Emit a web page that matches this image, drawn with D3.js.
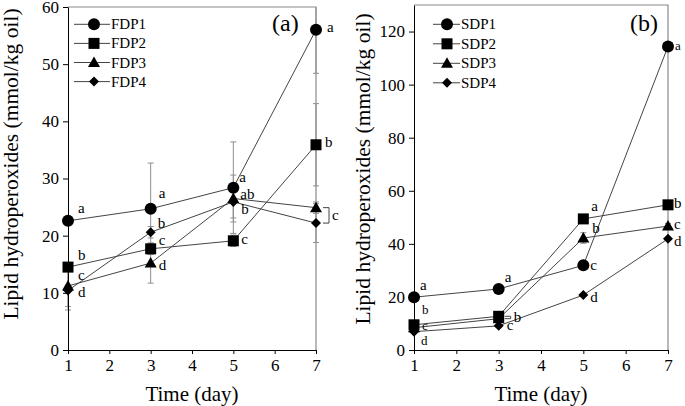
<!DOCTYPE html>
<html>
<head>
<meta charset="utf-8">
<script src="https://cdn.jsdelivr.net/npm/d3@7"></script>
<style>
  body { margin: 0; background: #fff; }
  svg { display: block; font-family: "Liberation Serif", "Times New Roman", serif; }
</style>
</head>
<body>
<svg id="chart" width="685" height="406"></svg>
<script>
// data
var days = [1, 3, 5, 7];

var fdpNames = ["FDP1", "FDP2", "FDP3", "FDP4"];
var fdp1 = [22.6, 24.7, 28.4, 56.0];
var fdp2 = [14.5, 17.7, 19.1, 35.9];
var fdp3 = [11.2, 15.2, 26.5, 24.9];
var fdp4 = [10.4, 20.6, 25.9, 22.2];
var fdp1Err = [0.8, 8.0, 8.0, 7.6];
var fdp2Err = [0.5, 1.0, 1.0, 7.2];
var fdp3Err = [3.6, 3.5, 4.1, 1.0];
var fdp4Err = [3.4, 1.0, 2.8, 3.4];
var fdpLetters = [["a", "a", "a", "a"], ["b", "c", "c", "b"], ["c", "d", "ab", ""], ["d", "b", "b", ""]];

var sdpNames = ["SDP1", "SDP2", "SDP3", "SDP4"];
var sdp1 = [19.9, 23.0, 31.9, 114.4];
var sdp2 = [9.5, 12.7, 49.4, 54.7];
var sdp3 = [8.4, 11.8, 42.2, 46.7];
var sdp4 = [6.9, 9.1, 20.7, 41.9];
var sdp1Err = [0.5, 0.5, 0.8, 1.5];
var sdp2Err = [0.5, 0.5, 1.0, 1.0];
var sdp3Err = [0.5, 0.5, 2.0, 1.0];
var sdp4Err = [0.5, 0.5, 0.5, 0.5];
var sdpLetters = [["a", "a", "c", "a"], ["b", "", "a", "b"], ["c", "", "b", "c"], ["d", "c", "d", "d"]];

var fdpTicks = [0, 10, 20, 30, 40, 50, 60];
var sdpTicks = [0, 20, 40, 60, 80, 100, 120];

var svg = d3.select("#chart");

// marker shapes
function marker(g, k) {
    if (k === 0) {
        g.append("circle").attr("r", 6);
    } else if (k === 1) {
        g.append("rect").attr("x", -5.5).attr("y", -5.5).attr("width", 11).attr("height", 11);
    } else if (k === 2) {
        g.append("path").attr("d", "M0,-6L6,4.5L-6,4.5Z");
    } else {
        g.append("path").attr("d", "M0,-5L5,0L0,5L-5,0Z");
    }
    g.attr("fill", "#000");
}

function drawPanel(p) {
    var x = d3.scaleLinear().domain([1, 7]).range(p.xRange);
    var y = d3.scaleLinear().domain([0, p.yMax]).range([350, p.top]);
    var g = svg.append("g");

    // frame
    g.append("path")
        .attr("d", "M" + x(1) + "," + y(p.yMax) + "H" + x(7) + "V" + y(0))
        .attr("fill", "none").attr("stroke", "#8a8a8a").attr("stroke-width", 1.2);

    // error bars
    var clipTop = y(p.yMax);
    p.series.forEach(function(s, k) {
        s.forEach(function(v, i) {
            var e = p.errs[k][i];
            var cx = x(days[i]);
            var y1 = Math.max(y(v + e), clipTop), y2 = y(v - e);
            g.append("line").attr("x1", cx).attr("x2", cx).attr("y1", y1).attr("y2", y2)
                .attr("stroke", "#8f8f8f").attr("stroke-width", 1);
            [[v + e, y(v + e)], [v - e, y2]].forEach(function(c) {
                if (c[0] <= p.yMax) {
                    g.append("line").attr("x1", cx - 3).attr("x2", cx + 3).attr("y1", c[1]).attr("y2", c[1])
                        .attr("stroke", "#8f8f8f").attr("stroke-width", 1);
                }
            });
        });
    });

    // axes
    g.append("g").attr("transform", "translate(0,350)")
        .call(d3.axisBottom(x).tickValues(d3.range(1, 8)).tickSize(4).tickPadding(5).tickFormat(d3.format("d")))
        .call(function(a) {
            a.select(".domain").attr("stroke", "#000");
            a.selectAll("text").attr("font-size", 17).attr("font-family", "Liberation Serif").attr("fill", "#000");
        });
    g.append("g").attr("transform", "translate(" + x(1) + ",0)")
        .call(d3.axisLeft(y).tickValues(p.ticks).tickSize(5).tickPadding(4).tickSizeOuter(0))
        .call(function(a) {
            a.select(".domain").attr("stroke", "#000");
            a.selectAll("text").attr("font-size", 17).attr("font-family", "Liberation Serif").attr("fill", "#000");
        });

    // lines
    var line = d3.line().x(function(d, i) { return x(days[i]); }).y(function(d) { return y(d); });
    p.series.forEach(function(s) {
        g.append("path").attr("d", line(s)).attr("fill", "none")
            .attr("stroke", "#444").attr("stroke-width", 1);
    });

    // bracket
    var b = p.bracket;
    var bx = x(days[b.day]);
    var ya = y(p.series[b.a][b.day]), yb = y(p.series[b.b][b.day]);
    g.append("path")
        .attr("d", "M" + (bx + b.x0) + "," + ya + "H" + (bx + b.x1) + "V" + yb + "H" + (bx + b.x0))
        .attr("fill", "none").attr("stroke", "#444").attr("stroke-width", 1);
    g.append("text").attr("x", bx + b.x1 + 3).attr("y", (ya + yb) / 2 + 4.5)
        .attr("font-size", 15).text(b.label);

    // markers
    p.series.forEach(function(s, k) {
        s.forEach(function(v, i) {
            var m = g.append("g").attr("transform", "translate(" + x(days[i]) + "," + y(v) + ")");
            marker(m, k);
        });
    });

    // letters
    p.letters.forEach(function(row, k) {
        row.forEach(function(t, i) {
            if (!t) return;
            var o = p.offsets[k][i];
            g.append("text").attr("x", x(days[i]) + o[0]).attr("y", y(p.series[k][i]) + o[1])
                .attr("font-size", o[2] || 15).text(t);
        });
    });

    // legend
    p.names.forEach(function(n, k) {
        var ly = p.legend.y + k * p.legend.dy;
        g.append("line").attr("x1", p.legend.x0).attr("x2", p.legend.x1).attr("y1", ly).attr("y2", ly)
            .attr("stroke", "#444").attr("stroke-width", 1);
        var m = g.append("g").attr("transform", "translate(" + p.legend.mx + "," + ly + ")");
        marker(m, k);
        g.append("text").attr("x", p.legend.x1 + 1).attr("y", ly + 5).attr("font-size", 15).text(n);
    });

    // panel tag
    g.append("text").attr("x", p.tag.x).attr("y", 31).attr("font-size", 24).text(p.tag.t);

    // titles
    g.append("text").attr("x", (x(1) + x(7)) / 2).attr("y", 401).attr("text-anchor", "middle")
        .attr("font-size", 21).text("Time (day)");
    g.append("text").attr("text-anchor", "middle").attr("font-size", 21.5)
        .attr("transform", "translate(" + p.yTitle[0] + "," + p.yTitle[1] + ")rotate(-90)")
        .text("Lipid hydroperoxides (mmol/kg oil)");
}

drawPanel({
    xRange: [68, 316], yMax: 60, top: 7, ticks: fdpTicks,
    series: [fdp1, fdp2, fdp3, fdp4], errs: [fdp1Err, fdp2Err, fdp3Err, fdp4Err],
    names: fdpNames, letters: fdpLetters,
    offsets: [[[10, -8], [8, -11], [6, -6], [11, 2]],
              [[10, -7], [8, -4], [8, 3], [9, 2]],
              [[10, -6], [8, 7], [7, 0], [0, 0]],
              [[10, 6], [7, -4], [8, 12], [0, 0]]],
    bracket: {day: 3, a: 2, b: 3, x0: 7, x1: 13, label: "c"},
    legend: {x0: 74, x1: 110, mx: 94, y: 24.3, dy: 19.1},
    tag: {x: 272, t: "(a)"},
    yTitle: [18, 164]
});

drawPanel({
    xRange: [414, 668], yMax: 130, top: 5, ticks: sdpTicks,
    series: [sdp1, sdp2, sdp3, sdp4], errs: [sdp1Err, sdp2Err, sdp3Err, sdp4Err],
    names: sdpNames, letters: sdpLetters,
    offsets: [[[6, -7], [6, -7], [7, 5], [7, 4, 13]],
              [[8, -11, 13], [0, 0], [8, -8], [6, 3]],
              [[8, 2, 13], [0, 0], [9, -5], [6, 3]],
              [[7, 13, 13], [8, 4], [7, 7], [6, 7]]],
    bracket: {day: 1, a: 1, b: 2, x0: 6, x1: 12, label: "b"},
    legend: {x0: 433, x1: 460, mx: 447, y: 24.3, dy: 19.5},
    tag: {x: 630, t: "(b)"},
    yTitle: [370, 169]
});
</script>
</body>
</html>
